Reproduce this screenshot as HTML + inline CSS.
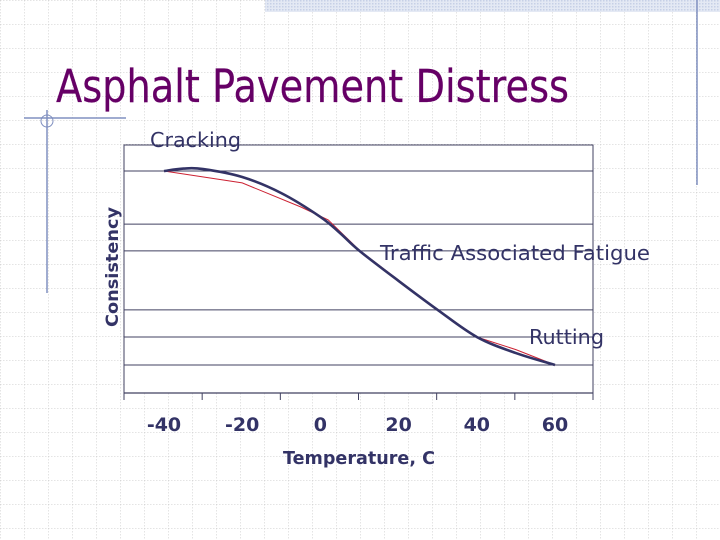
<!DOCTYPE html>
<html><head><meta charset="utf-8"><style>
html,body{margin:0;padding:0;background:#fff;}
svg{display:block;}
</style></head><body>
<svg width="720" height="540" viewBox="0 0 720 540" xmlns="http://www.w3.org/2000/svg">
<defs>
<pattern id="grid" width="24" height="24" patternUnits="userSpaceOnUse">
<path d="M0 0H24M0 0V24" stroke="#c8c8c8" stroke-width="1" stroke-dasharray="1.5,1.5" fill="none"/>
</pattern>
<pattern id="hatch" width="3" height="3" patternUnits="userSpaceOnUse">
<rect width="3" height="3" fill="#e4e9f4"/><rect width="1.5" height="1.5" fill="#c6d0e6"/>
</pattern>
</defs>
<rect width="720" height="540" fill="url(#grid)"/>
<rect x="265" y="0" width="455" height="12" fill="url(#hatch)"/>
<line x1="697" y1="0" x2="697" y2="185" stroke="#8090c0" stroke-width="1.5"/>
<line x1="24" y1="118" x2="126" y2="118" stroke="#8090c0" stroke-width="1.5"/>
<line x1="47" y1="110" x2="47" y2="293" stroke="#8090c0" stroke-width="1.5"/>
<circle cx="47" cy="121" r="6" fill="none" stroke="#8090c0" stroke-width="1"/>
<text x="56" y="102" font-family="DejaVu Sans, sans-serif" font-size="45" fill="#660066" stroke="#660066" stroke-width="0.2" textLength="513" lengthAdjust="spacingAndGlyphs">Asphalt Pavement Distress</text>
<g id="chart"></g>
</svg>
<script>
const blueTemps=[-40,-35,-30,-20,-10,0,5,10,20,30,40,50,60];
const blueVals=[89.5,90.5,90.3,87.1,80.6,71.0,64.5,57.3,45.2,33.5,22.6,16.1,11.3];
const redTemps=[-40,-20,-5,2,10,30,40,50,60];
const redVals=[89.5,84.7,75.0,69.8,57.5,33.5,22.6,17.5,11.3];
const xTickLabels=["-40","-20","0","20","40","60"];
const gridVals=[100,89.5,68.1,57.3,33.5,22.6,11.3];
const NS="http://www.w3.org/2000/svg";
const g=document.getElementById('chart');
const L=124,R=593,T=145,B=393;
function xs(t){return 164+(t+40)*(555-164)/100;}
function ys(v){return B-v*(B-T)/100;}
function mk(tag,attrs,parent){const e=document.createElementNS(NS,tag);for(const k in attrs)e.setAttribute(k,attrs[k]);(parent||g).appendChild(e);return e;}
const plotBox=mk('rect',{x:L,y:T,width:R-L,height:B-T,fill:'#fff',stroke:'#404060','stroke-width':1});


gridVals.forEach(v=>{const l=mk('line',{x1:L,x2:R,y1:ys(v),y2:ys(v),stroke:'#404060','stroke-width':1});

});
const ax=mk('line',{x1:L,x2:R,y1:B,y2:B,stroke:'#404060','stroke-width':1.2});


for(let i=0;i<=xTickLabels.length;i++){const x=L+i*(R-L)/xTickLabels.length;const t=mk('line',{x1:x,x2:x,y1:B,y2:B+7,stroke:'#404060'});

}
xTickLabels.forEach((s,i)=>{const t=mk('text',{x:xs(+s),y:431,'text-anchor':'middle','font-family':'DejaVu Sans, sans-serif','font-size':19,'font-weight':'bold',fill:'#333366'});t.textContent=s;

});
function path(ts,vs){return ts.map((t,i)=>(i?'L':'M')+xs(t).toFixed(1)+' '+ys(vs[i]).toFixed(1)).join(' ');}
function smooth(ts,vs){const p=ts.map((t,i)=>[xs(t),ys(vs[i])]);let d='M'+p[0][0]+' '+p[0][1];
for(let i=0;i<p.length-1;i++){const p0=p[i-1]||p[i],p1=p[i],p2=p[i+1],p3=p[i+2]||p2;
d+=' C'+(p1[0]+(p2[0]-p0[0])/6)+' '+(p1[1]+(p2[1]-p0[1])/6)+' '+(p2[0]-(p3[0]-p1[0])/6)+' '+(p2[1]-(p3[1]-p1[1])/6)+' '+p2[0]+' '+p2[1];}return d;}
const red=mk('path',{d:path(redTemps,redVals),fill:'none',stroke:'#cc2233','stroke-width':1});


const blue=mk('path',{d:smooth(blueTemps,blueVals),fill:'none',stroke:'#333366','stroke-width':2.6});


function lab(txt,x,y,name,extra){const t=mk('text',Object.assign({x:x,y:y,'font-family':'DejaVu Sans, sans-serif',fill:'#333366'},extra));t.textContent=txt;

return t;}
lab('Cracking',150,147,'cracking-label',{'font-size':20,textLength:91,lengthAdjust:'spacingAndGlyphs'});
lab('Traffic Associated Fatigue',380,260,'fatigue-label',{'font-size':20,textLength:270,lengthAdjust:'spacingAndGlyphs'});
lab('Rutting',529,344,'rutting-label',{'font-size':20,textLength:75,lengthAdjust:'spacingAndGlyphs'});
lab('Temperature, C',359,464,'x-axis-title',{'font-size':18,'font-weight':'bold','text-anchor':'middle',textLength:152,lengthAdjust:'spacingAndGlyphs'});
lab('Consistency',0,0,'y-axis-title',{'font-size':17,'font-weight':'bold','text-anchor':'middle',transform:'translate(118,267) rotate(-90)',textLength:120,lengthAdjust:'spacingAndGlyphs'});
</script>
</body></html>
